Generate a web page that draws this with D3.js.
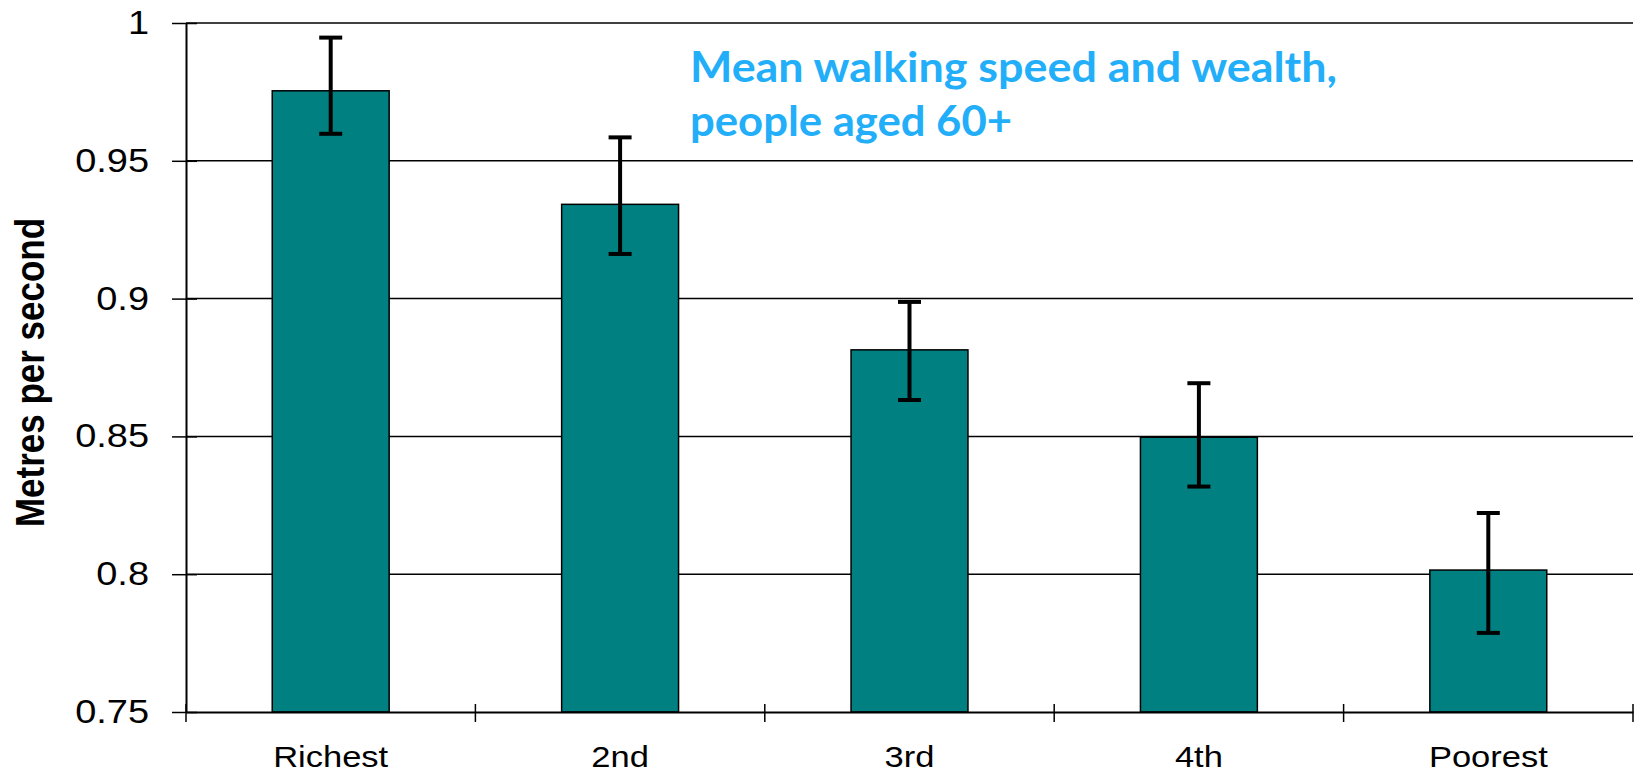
<!DOCTYPE html>
<html>
<head>
<meta charset="utf-8">
<script src="https://cdn.jsdelivr.net/npm/d3@7"></script>
<style>
  html, body { margin: 0; padding: 0; background: #fff; }
  svg { display: block; }
</style>
</head>
<body>
<svg id="chart" width="1634" height="772"></svg>
<script>
const categories = ["Richest", "2nd", "3rd", "4th", "Poorest"];
const means = [0.9754, 0.9342, 0.8814, 0.8497, 0.8015];
const errUpper = [0.9947, 0.9585, 0.8988, 0.8693, 0.8222];
const errLower = [0.9598, 0.9162, 0.8632, 0.8318, 0.7787];
const yTicks = [0.75, 0.8, 0.85, 0.9, 0.95, 1];
const yTickLabels = ["0.75", "0.8", "0.85", "0.9", "0.95", "1"];
const titleLines = ["Mean walking speed and wealth,", "people aged 60+"];
const yLabel = "Metres per second";

const W = 1634, H = 772;
const margin = { top: 23, right: 1, bottom: 60, left: 186 };
const svg = d3.select("#chart");
const stretch = 1.15; // reference text is horizontally widened

const x = d3.scaleBand().domain(categories).range([margin.left, W - margin.right]).padding(0);
const y = d3.scaleLinear().domain([0.75, 1]).range([H - margin.bottom, margin.top]);
const barW = x.bandwidth() * 0.404;
const font = "'Liberation Sans', Arial, sans-serif";

// gridlines
svg.append("g").selectAll("line").data(yTicks.filter(d => d > 0.75)).join("line")
  .attr("x1", margin.left).attr("x2", W - margin.right)
  .attr("y1", d => y(d)).attr("y2", d => y(d))
  .attr("stroke", "#000").attr("stroke-width", 1.5);

// bars
svg.append("g").selectAll("rect").data(categories).join("rect")
  .attr("x", (d) => x(d) + (x.bandwidth() - barW) / 2)
  .attr("y", (d, i) => y(means[i]))
  .attr("width", barW)
  .attr("height", (d, i) => y(0.75) - y(means[i]))
  .attr("fill", "#008080")
  .attr("stroke", "#000").attr("stroke-width", 1.5);

// error bars
const eg = svg.append("g").attr("stroke", "#000").attr("stroke-width", 4);
categories.forEach((c, i) => {
  const cx = x(c) + x.bandwidth() / 2;
  eg.append("line").attr("x1", cx).attr("x2", cx).attr("y1", y(errUpper[i])).attr("y2", y(errLower[i]));
  eg.append("line").attr("x1", cx - 11.5).attr("x2", cx + 11.5).attr("y1", y(errUpper[i])).attr("y2", y(errUpper[i]));
  eg.append("line").attr("x1", cx - 11.5).attr("x2", cx + 11.5).attr("y1", y(errLower[i])).attr("y2", y(errLower[i]));
});

// y axis
const pad = 37;
const yAxis = d3.axisLeft(y).tickValues(yTicks).tickFormat((d, i) => yTickLabels[i]).tickSize(0).tickPadding(pad);
const yg = svg.append("g").attr("transform", `translate(${margin.left},0)`).call(yAxis);
yg.select(".domain").attr("stroke", "#000").attr("stroke-width", 2);
yg.selectAll(".tick text").attr("font-family", font).attr("font-size", 33).attr("fill", "#000")
  .attr("transform", `translate(${-pad},0) scale(${stretch},1) translate(${pad},0)`);
yg.selectAll(".tick").append("line").attr("x1", -14).attr("x2", 11).attr("stroke", "#000").attr("stroke-width", 1.5);

// x axis
const xAxis = d3.axisBottom(x).tickSize(0).tickPadding(0).tickFormat("");
const xg = svg.append("g").attr("transform", `translate(0,${H - margin.bottom})`).call(xAxis);
xg.select(".domain").attr("stroke", "#000").attr("stroke-width", 2);
xg.selectAll(".tick").remove();
const bounds = categories.map(c => x(c)).concat([x(categories[categories.length - 1]) + x.bandwidth()]);
xg.selectAll("line.bt").data(bounds).join("line").attr("class", "bt")
  .attr("x1", d => d).attr("x2", d => d).attr("y1", -8).attr("y2", 10)
  .attr("stroke", "#000").attr("stroke-width", 1.5);
xg.selectAll("text.cat").data(categories).join("text").attr("class", "cat")
  .attr("transform", d => `translate(${x(d) + x.bandwidth() / 2},55) scale(${stretch},1)`)
  .attr("text-anchor", "middle").attr("font-family", font).attr("font-size", 30).attr("fill", "#000")
  .text(d => d);

// y label
svg.append("text")
  .attr("transform", `translate(44,${(margin.top + H - margin.bottom) / 2 + 5}) scale(1.16,1) rotate(-90)`)
  .attr("text-anchor", "middle").attr("font-family", font).attr("font-weight", "bold")
  .attr("font-size", 35).attr("fill", "#000").text(yLabel);

// title
const titleWidths = [647, 322];
svg.append("g").selectAll("text").data(titleLines).join("text")
  .attr("x", 690).attr("y", (d, i) => 82 + i * 54)
  .attr("textLength", (d, i) => titleWidths[i]).attr("lengthAdjust", "spacingAndGlyphs")
  .attr("font-family", "Lato, 'Open Sans', sans-serif").attr("font-weight", "bold")
  .attr("font-size", 42).attr("fill", "#22AEF8").text(d => d);
</script>
</body>
</html>
